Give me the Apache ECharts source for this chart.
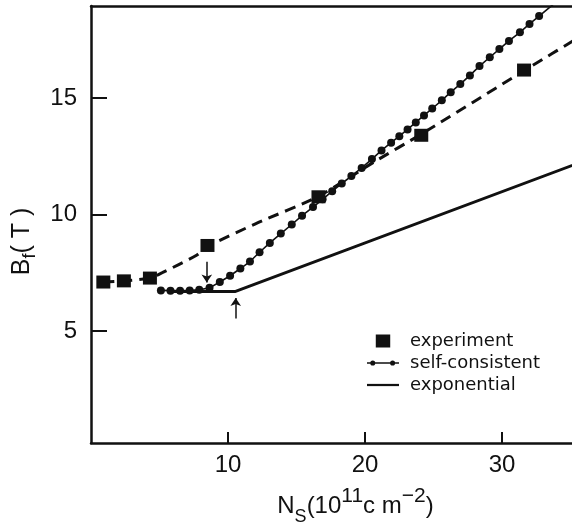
<!DOCTYPE html>
<html>
<head>
<meta charset="utf-8">
<script src="https://cdn.jsdelivr.net/npm/echarts@6/dist/echarts.min.js"></script>
<style>
  html, body { margin: 0; padding: 0; background: #fff; }
  #chart { width: 572px; height: 525px; }
</style>
</head>
<body>
<div id="chart"></div>
<script>
// measured points (N_s in 1e11 cm^-2, B_f in T)
const expX = [0.9, 2.4, 4.3, 8.5, 16.6, 24.1, 31.6];
const expY = [7.1, 7.15, 7.27, 8.67, 10.76, 13.4, 16.2];

// dashed guide through the experiment points
const guideX = [0.9, 2.4, 4.3, 5.2, 6.4, 7.7, 8.5, 12.0, 16.6, 20.7, 24.1, 31.6, 36.0];
const guideY = [7.1, 7.15, 7.27, 7.5, 7.85, 8.25, 8.62, 9.6, 10.78, 12.27, 13.45, 16.17, 17.75];

// self-consistent calculation (dots)
const scX = [5.1, 5.8, 6.5, 7.2, 7.9, 8.65, 9.4, 10.15, 10.9, 11.6, 12.3, 13.05, 13.85, 14.65,
  15.4, 16.2, 16.9, 17.6, 18.3, 19.0, 19.75, 20.5, 21.2, 21.9, 22.5, 23.1, 23.7, 24.3, 24.9,
  25.6, 26.25, 26.95, 27.65, 28.35, 29.1, 29.8, 30.5, 31.3, 32.0, 32.7, 34.1];
const scY = [6.74, 6.73, 6.73, 6.74, 6.77, 6.85, 7.1, 7.37, 7.68, 7.98, 8.38, 8.78, 9.18, 9.57,
  9.95, 10.32, 10.65, 11.0, 11.33, 11.65, 12.0, 12.38, 12.75, 13.08, 13.36, 13.65, 13.95, 14.25, 14.55,
  14.9, 15.25, 15.6, 15.97, 16.37, 16.75, 17.1, 17.45, 17.82, 18.18, 18.52, 19.2];

// exponential model
const expoX = [5.7, 10.5, 36.0];
const expoY = [6.69, 6.69, 12.3];

// arrows marking the onsets
const arrowDown = [[8.45, 7.97], [8.45, 7.08]];
const arrowUp = [[10.56, 5.54], [10.56, 6.42]];

const xTicks = [10, 20, 30];
const yTicks = [5, 10, 15];

(function(){
  const ink = "#111";
  const zip = (xs, ys)=>xs.map((x, i)=>[x, ys[i]]);
  const chart = echarts.init(document.getElementById("chart"), null, { renderer: "canvas" });

  const axisFont = { fontFamily: "Liberation Sans", fontSize: 24, color: ink };
  const big = { fontFamily: "Liberation Sans", fontSize: 24, color: ink, lineHeight: 40 };
  const sup = { fontFamily: "Liberation Sans", fontSize: 21, color: ink, lineHeight: 22, verticalAlign: "top" };
  const sub = { fontFamily: "Liberation Sans", fontSize: 18, color: ink, lineHeight: 18, verticalAlign: "bottom" };
  const ybig = { fontFamily: "Liberation Sans", fontSize: 25, color: ink, lineHeight: 34 };
  const ysub = { fontFamily: "Liberation Sans", fontSize: 18, color: ink, lineHeight: 18, verticalAlign: "bottom" };

  chart.setOption({
    animation: false,
    grid: { left: 91, right: 0, top: 6, bottom: 82, containLabel: false, outerBoundsMode: "none" },
    legend: {
      orient: "vertical",
      left: 362,
      top: 327,
      itemWidth: 32,
      itemHeight: 13,
      itemGap: 4,
      textStyle: { fontFamily: "DejaVu Sans", fontSize: 18, color: ink, padding: [0, 0, 0, 6] },
      data: [
        { name: "experiment", icon: "path://M0,0H10V9H0Z" },
        { name: "self-consistent", icon: "path://M0,9H100V13H0Z M10,11A8,8 0 1,1 26,11A8,8 0 1,1 10,11Z M72,11A8,8 0 1,1 88,11A8,8 0 1,1 72,11Z" },
        { name: "exponential", icon: "path://M0,0H100V7H0Z" }
      ]
    },
    xAxis: [{
      type: "value",
      min: 0,
      max: 35.1,
      position: "bottom",
      axisLine: { lineStyle: { color: ink, width: 2.5 } },
      axisTick: { inside: true, length: 11, lineStyle: { color: ink, width: 2 }, customValues: xTicks },
      axisLabel: Object.assign({ margin: 10, customValues: xTicks }, axisFont),
      splitLine: { show: false },
      name: "{a|N}{s|S}{a|(10}{p|11}{a|c m}{p|−2}{a|)}",
      nameLocation: "middle",
      nameGap: 43,
      nameTextStyle: { padding: [0, 0, 0, 48], rich: { a: big, s: sub, p: sup } }
    }, {
      type: "value",
      min: 0,
      max: 35.1,
      position: "top",
      axisLine: { lineStyle: { color: ink, width: 2.5 } },
      axisTick: { show: false },
      axisLabel: { show: false },
      splitLine: { show: false }
    }],
    yAxis: {
      type: "value",
      min: 0.19,
      max: 18.95,
      axisLine: { show: true, lineStyle: { color: ink, width: 2.5 } },
      axisTick: { show: true, inside: true, length: 16, lineStyle: { color: ink, width: 2 }, customValues: yTicks },
      axisLabel: Object.assign({ margin: 14, customValues: yTicks, padding: [18, 0, 0, 0] }, axisFont),
      splitLine: { show: false },
      name: "{a|B}{s|f}{a|( T )}",
      nameLocation: "middle",
      nameGap: 50,
      nameTextStyle: { padding: [0, 34, 0, 0], rich: { a: ybig, s: ysub } }
    },
    series: [
      {
        name: "guide",
        type: "line",
        data: zip(guideX, guideY),
        showSymbol: false,
        smooth: 0.25,
        lineStyle: { color: ink, width: 3, type: [11, 7] },
        silent: true,
        z: 2
      },
      {
        name: "experiment",
        type: "scatter",
        data: zip(expX, expY),
        symbol: "rect",
        symbolSize: [14, 13],
        itemStyle: { color: ink, opacity: 1 },
        z: 4
      },
      {
        name: "self-consistent",
        type: "line",
        data: zip(scX, scY),
        symbol: "circle",
        symbolSize: 8,
        showAllSymbol: true,
        itemStyle: { color: ink },
        lineStyle: { color: ink, width: 1.6 },
        z: 3
      },
      {
        name: "exponential",
        type: "line",
        data: zip(expoX, expoY),
        showSymbol: false,
        itemStyle: { color: ink },
        lineStyle: { color: ink, width: 3 },
        z: 3,
        markLine: {
          silent: true,
          symbol: ["none", "arrow"],
          symbolSize: 8,
          label: { show: false },
          lineStyle: { color: ink, width: 1.5, type: "solid" },
          data: [
            [{ coord: arrowDown[0] }, { coord: arrowDown[1] }],
            [{ coord: arrowUp[0] }, { coord: arrowUp[1] }]
          ]
        }
      }
    ]
  });
})();
</script>
</body>
</html>
